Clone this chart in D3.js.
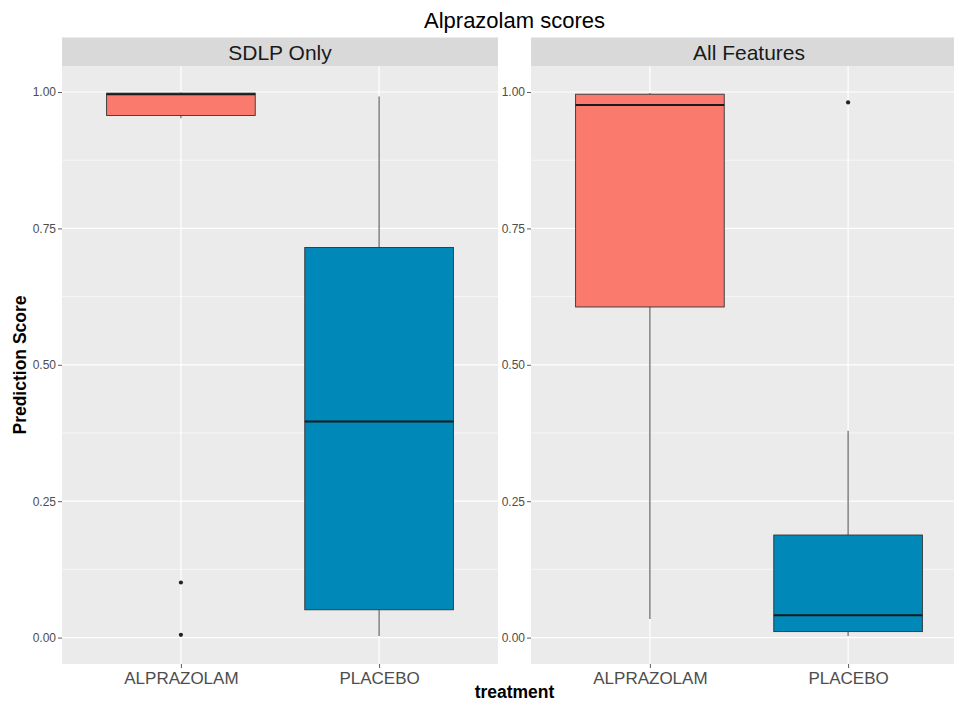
<!DOCTYPE html>
<html>
<head>
<meta charset="utf-8">
<script src="https://cdn.jsdelivr.net/npm/d3@7"></script>
<style>
  body { margin: 0; background: #fff; }
  text { font-family: "Liberation Sans", Arial, sans-serif; }
</style>
</head>
<body>
<div id="chart"></div>
<script>
// data
var facets = ['SDLP Only', 'All Features']
var treatments = ['ALPRAZOLAM', 'PLACEBO']
var fills = ['#FA7A6E', '#0088B8']
// rows = facet, columns = treatment
var lowWhisker  = [[0.952, 0.003], [0.034, 0.003]]
var q1          = [[0.957, 0.051], [0.606, 0.011]]
var median      = [[0.996, 0.396], [0.976, 0.041]]
var q3          = [[0.998, 0.715], [0.996, 0.188]]
var highWhisker = [[0.999, 0.992], [0.998, 0.379]]
var outliers    = [[[0.101, 0.005], []], [[], [0.981]]]
var yTicks = [0, 0.25, 0.5, 0.75, 1]
var yMinor = [0.125, 0.375, 0.625, 0.875]

var width = 954
var height = 704
var panelW = 436
var panelX = [62, 531]
var stripTop = 37.5
var panelTop = 66
var panelBottom = 664

var svg = d3.select('#chart').append('svg').attr('width', width).attr('height', height)
svg.append('rect').attr('width', width).attr('height', height).attr('fill', '#fff')

var y = d3.scaleLinear().domain([-0.0484, 1.0477]).range([panelBottom, panelTop])

svg.append('text').attr('x', (panelX[0] + panelX[1] + panelW) / 2).attr('y', 27.5)
  .attr('text-anchor', 'middle').attr('font-size', 22).attr('fill', '#000')
  .text('Alprazolam scores')

facets.forEach(function(f, fi) {
  var x0 = panelX[fi]
  // ggplot discrete axis: centres at 0.6 and 1.6 of 2.2 units
  var x = d3.scalePoint().domain(treatments).range([x0 + panelW * 0.6 / 2.2, x0 + panelW * 1.6 / 2.2])
  var boxW = panelW / 2.2 * 0.75

  var g = svg.append('g')
  // strip
  g.append('rect').attr('x', x0).attr('y', stripTop).attr('width', panelW).attr('height', panelTop - stripTop).attr('fill', '#D9D9D9')
  g.append('text').attr('x', x0 + panelW / 2).attr('y', 59.5).attr('text-anchor', 'middle')
    .attr('font-size', 21).attr('fill', '#1A1A1A').text(f)
  // panel
  g.append('rect').attr('x', x0).attr('y', panelTop).attr('width', panelW).attr('height', panelBottom - panelTop).attr('fill', '#EBEBEB')

  g.selectAll('line.minor').data(yMinor).join('line').attr('class', 'minor')
    .attr('x1', x0).attr('x2', x0 + panelW).attr('y1', d => y(d)).attr('y2', d => y(d))
    .attr('stroke', '#fff').attr('stroke-width', 0.6)
  g.selectAll('line.major').data(yTicks).join('line').attr('class', 'major')
    .attr('x1', x0).attr('x2', x0 + panelW).attr('y1', d => y(d)).attr('y2', d => y(d))
    .attr('stroke', '#fff').attr('stroke-width', 1.2)
  g.selectAll('line.vmajor').data(treatments).join('line').attr('class', 'vmajor')
    .attr('x1', d => x(d)).attr('x2', d => x(d)).attr('y1', panelTop).attr('y2', panelBottom)
    .attr('stroke', '#fff').attr('stroke-width', 1.2)

  // y axis
  var yAxis = g.append('g').attr('transform', 'translate(' + x0 + ',0)')
    .call(d3.axisLeft(y).tickValues(yTicks).tickFormat(d3.format('.2f')).tickSize(4).tickPadding(2))
  yAxis.select('.domain').remove()
  yAxis.selectAll('line').attr('stroke', '#333').attr('stroke-width', 0.8)
  yAxis.selectAll('text').attr('font-size', 12).attr('fill', '#4D4D4D').attr('font-family', '"Liberation Sans", Arial, sans-serif')

  // x axis
  var xAxis = g.append('g').attr('transform', 'translate(0,' + panelBottom + ')')
    .call(d3.axisBottom(x).tickSize(4).tickPadding(4))
  xAxis.select('.domain').remove()
  xAxis.selectAll('line').attr('stroke', '#333').attr('stroke-width', 0.8)
  xAxis.selectAll('text').attr('font-size', 17).attr('fill', '#4D4D4D').attr('font-family', '"Liberation Sans", Arial, sans-serif')

  // boxes
  treatments.forEach(function(t, ti) {
    var c = x(t)
    g.append('line').attr('x1', c).attr('x2', c).attr('y1', y(highWhisker[fi][ti])).attr('y2', y(q3[fi][ti]))
      .attr('stroke', '#555').attr('stroke-width', 1.1)
    g.append('line').attr('x1', c).attr('x2', c).attr('y1', y(q1[fi][ti])).attr('y2', y(lowWhisker[fi][ti]))
      .attr('stroke', '#555').attr('stroke-width', 1.1)
    g.append('rect').attr('x', c - boxW / 2).attr('width', boxW)
      .attr('y', y(q3[fi][ti])).attr('height', y(q1[fi][ti]) - y(q3[fi][ti]))
      .attr('fill', fills[ti]).attr('stroke', '#333').attr('stroke-width', 0.9)
    g.append('line').attr('x1', c - boxW / 2).attr('x2', c + boxW / 2)
      .attr('y1', y(median[fi][ti])).attr('y2', y(median[fi][ti]))
      .attr('stroke', '#1A1A1A').attr('stroke-width', 2)
    g.selectAll(null).data(outliers[fi][ti]).join('circle')
      .attr('cx', c).attr('cy', d => y(d)).attr('r', 2.1).attr('fill', '#222')
  })
})

svg.append('text').attr('x', (panelX[0] + panelX[1] + panelW) / 2).attr('y', 698)
  .attr('text-anchor', 'middle').attr('font-size', 17.5).attr('font-weight', 'bold').text('treatment')
svg.append('text').attr('transform', 'translate(26,' + (panelTop + panelBottom) / 2 + ') rotate(-90)')
  .attr('text-anchor', 'middle').attr('font-size', 17.5).attr('font-weight', 'bold').text('Prediction Score')
</script>
</body>
</html>
